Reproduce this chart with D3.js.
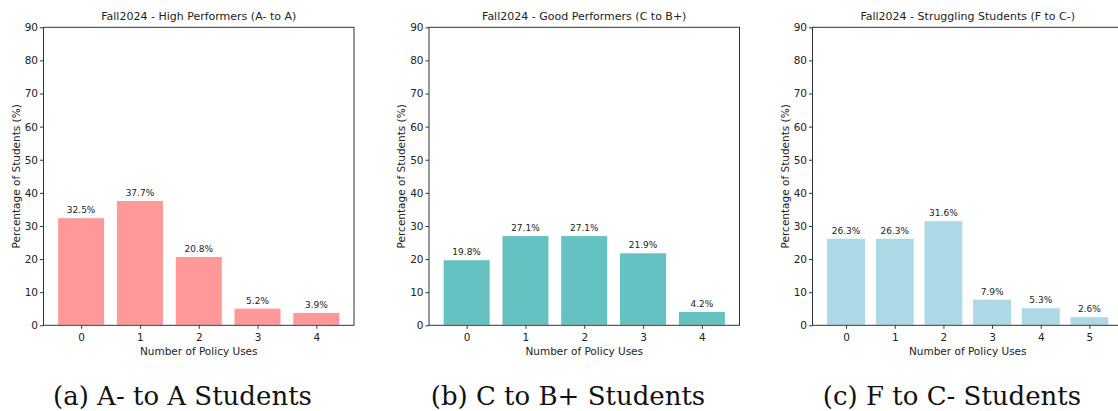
<!DOCTYPE html>
<html>
<head>
<meta charset="utf-8">
<script src="https://cdn.jsdelivr.net/npm/d3@7"></script>
<style>
  body { margin: 0; background: #fff; }
  svg { display: block; }
  .tick text { font-family: "DejaVu Sans", sans-serif; font-size: 10.5px; fill: #222; }
  .tick line { stroke: #333; }
</style>
</head>
<body>
<div id="chart"></div>
<script>
// donnees
var cats1 = [0, 1, 2, 3, 4];
var vals1 = [32.5, 37.7, 20.8, 5.2, 3.9];
var cats2 = [0, 1, 2, 3, 4];
var vals2 = [19.8, 27.1, 27.1, 21.9, 4.2];
var cats3 = [0, 1, 2, 3, 4, 5];
var vals3 = [26.3, 26.3, 31.6, 7.9, 5.3, 2.6];
var yTicks = [0, 10, 20, 30, 40, 50, 60, 70, 80, 90];

var titres = ["Fall2024 - High Performers (A- to A)",
              "Fall2024 - Good Performers (C to B+)",
              "Fall2024 - Struggling Students (F to C-)"];
var legendes = ["(a) A- to A Students", "(b) C to B+ Students", "(c) F to C- Students"];
var couleurs = ["#ff9999", "#66c2c2", "#add8e6"];

var W = 1118, H = 411;
var top0 = 27.3, bottom0 = 325.3;
var panelW = 310.5;
var lefts = [43.5, 429, 812.5];
var legendeX = [182.5, 568, 952];

var svg = d3.select("#chart").append("svg")
    .attr("width", W)
    .attr("height", H);

graphBarres(0, cats1, vals1);
graphBarres(1, cats2, vals2);
graphBarres(2, cats3, vals3);

function graphBarres(i, cats, vals) {
    var n = cats.length;
    var marge = 0.05 * (n - 0.2);
    var left = lefts[i];

    var xScale = d3.scaleLinear()
        .domain([-0.4 - marge, n - 0.6 + marge])
        .range([left, left + panelW]);

    var yScale = d3.scaleLinear()
        .domain([0, 90])
        .range([bottom0, top0]);

    var g = svg.append("g");

    // barres
    g.selectAll("rect.bar")
        .data(vals)
        .enter().append("rect")
        .attr("class", "bar")
        .attr("x", function (d, j) { return xScale(cats[j] - 0.4); })
        .attr("width", function (d, j) { return xScale(cats[j] + 0.4) - xScale(cats[j] - 0.4); })
        .attr("y", function (d) { return yScale(d); })
        .attr("height", function (d) { return yScale(0) - yScale(d); })
        .style("fill", couleurs[i])
        .style("stroke", "#fff")
        .style("stroke-width", 1);

    // etiquettes des valeurs
    g.selectAll("text.val")
        .data(vals)
        .enter().append("text")
        .attr("class", "val")
        .attr("x", function (d, j) { return xScale(cats[j]); })
        .attr("y", function (d) { return yScale(d) - 4.5; })
        .attr("text-anchor", "middle")
        .style("font-family", "DejaVu Sans, sans-serif")
        .style("font-size", "9px")
        .style("fill", "#222")
        .text(function (d) { return d.toFixed(1) + "%"; });

    // axes
    var xAxis = d3.axisBottom(xScale)
        .tickValues(cats)
        .tickFormat(d3.format("d"))
        .tickSize(3.5)
        .tickSizeOuter(0);

    var yAxis = d3.axisLeft(yScale)
        .tickValues(yTicks)
        .tickSize(3.5)
        .tickSizeOuter(0);

    var gx = g.append("g")
        .attr("transform", "translate(0," + bottom0 + ")")
        .call(xAxis);
    gx.select(".domain").remove();
    gx.selectAll(".tick text").attr("dy", "0.9em");

    var gy = g.append("g")
        .attr("transform", "translate(" + left + ",0)")
        .call(yAxis);
    gy.select(".domain").remove();
    gy.selectAll(".tick text").attr("x", -5.5);

    // cadre (4 spines)
    g.append("rect")
        .attr("x", left)
        .attr("y", top0)
        .attr("width", panelW)
        .attr("height", bottom0 - top0)
        .style("fill", "none")
        .style("stroke", "#333")
        .style("stroke-width", 1);

    // titre du graph
    g.append("text")
        .attr("x", left + panelW / 2)
        .attr("y", top0 - 7)
        .attr("text-anchor", "middle")
        .style("font-family", "DejaVu Sans, sans-serif")
        .style("font-size", "11px")
        .style("fill", "#222")
        .text(titres[i]);

    g.append("text")
        .attr("x", left + panelW / 2)
        .attr("y", 355)
        .attr("text-anchor", "middle")
        .style("font-family", "DejaVu Sans, sans-serif")
        .style("font-size", "10.5px")
        .style("fill", "#222")
        .text("Number of Policy Uses");

    g.append("text")
        .attr("transform", "translate(" + (left - 24) + "," + ((top0 + bottom0) / 2) + ") rotate(-90)")
        .attr("text-anchor", "middle")
        .style("font-family", "DejaVu Sans, sans-serif")
        .style("font-size", "10.5px")
        .style("fill", "#222")
        .text("Percentage of Students (%)");

    // legende sous la figure
    svg.append("text")
        .attr("x", legendeX[i])
        .attr("y", 405)
        .attr("text-anchor", "middle")
        .style("font-family", "DejaVu Serif, serif")
        .style("font-size", "26px")
        .style("fill", "#111")
        .text(legendes[i]);
}
</script>
</body>
</html>
